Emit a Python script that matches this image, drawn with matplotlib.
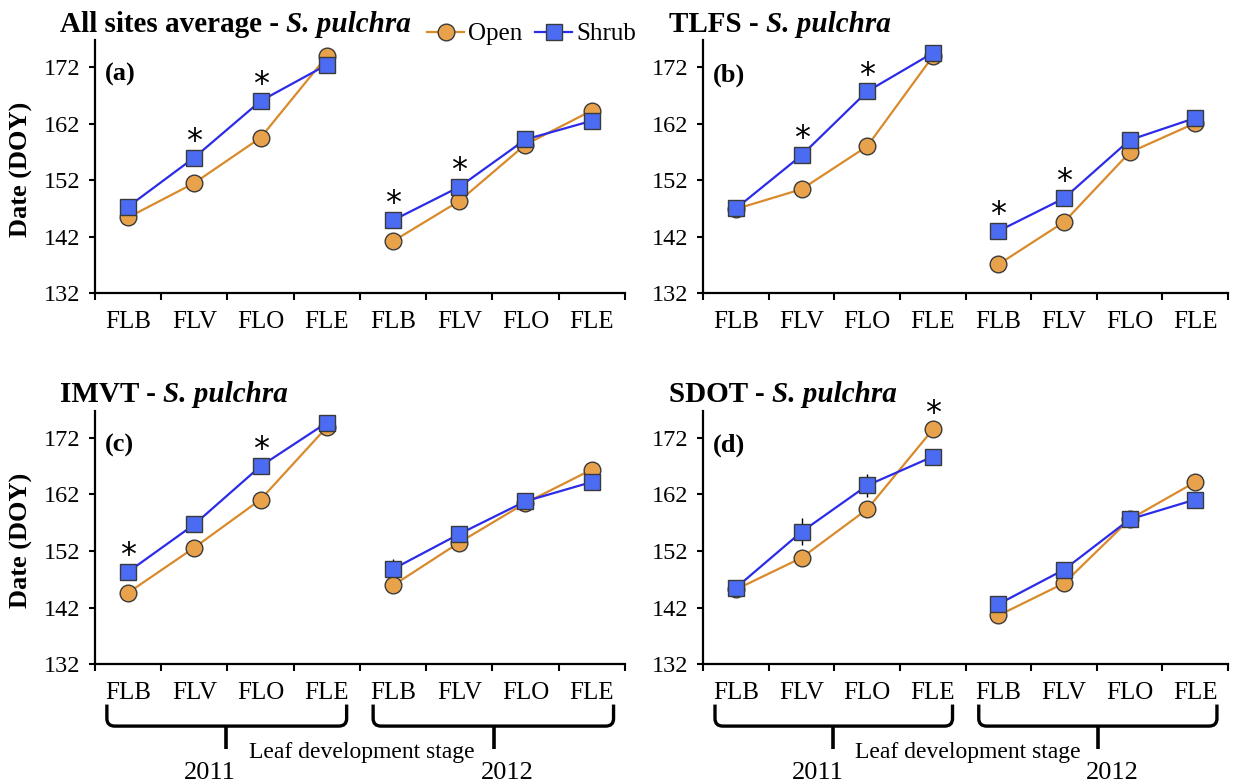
import numpy as np
import matplotlib.pyplot as plt
from matplotlib.lines import Line2D
from matplotlib.path import Path
from matplotlib.patches import PathPatch
from matplotlib.transforms import blended_transform_factory

plt.rcParams['font.family'] = ['Liberation Serif', 'DejaVu Serif']

stages = ["FLB", "FLV", "FLO", "FLE", "FLB", "FLV", "FLO", "FLE"]
sites = ["All sites average - ", "TLFS - ", "IMVT - ", "SDOT - "]
panel_tags = ["(a)", "(b)", "(c)", "(d)"]
years = ["2011", "2012"]

# leaf development dates (DOY), 2011 stages then 2012 stages
open_doy = [
    [145.4, 151.5, 159.5, 173.9, 141.2, 148.3, 158.3, 164.3],
    [146.9, 150.4, 158.0, 173.9, 137.1, 144.6, 156.9, 162.1],
    [144.6, 152.6, 161.1, 173.9, 145.9, 153.5, 160.5, 166.4],
    [145.2, 150.8, 159.4, 173.5, 140.6, 146.3, 157.6, 164.2],
]
shrub_doy = [
    [147.3, 156.0, 166.0, 172.4, 144.9, 150.8, 159.2, 162.5],
    [147.0, 156.4, 167.7, 174.5, 143.0, 148.8, 159.1, 163.0],
    [148.3, 156.7, 167.0, 174.7, 148.8, 155.0, 160.8, 164.2],
    [145.5, 155.4, 163.6, 168.7, 142.6, 148.7, 157.6, 161.1],
]
open_err = [
    [0.6, 0.6, 0.8, 0.6, 0.8, 0.8, 0.6, 0.8],
    [0.5, 0.6, 0.8, 0.6, 0.8, 0.8, 0.6, 0.5],
    [0.6, 0.8, 0.9, 0.6, 1.2, 0.8, 0.6, 0.8],
    [0.6, 0.8, 0.8, 0.8, 0.8, 0.8, 0.6, 0.8],
]
shrub_err = [
    [0.8, 1.2, 1.0, 0.8, 0.8, 1.2, 0.8, 0.8],
    [0.6, 0.8, 0.8, 0.8, 0.9, 0.8, 0.8, 0.8],
    [0.6, 0.8, 0.8, 0.8, 1.8, 1.2, 0.8, 0.6],
    [0.8, 2.4, 2.0, 1.0, 0.8, 1.0, 0.6, 0.6],
]
# stages with a significant open/shrub difference
signif = [[1, 2, 4, 5], [1, 2, 4, 5], [0, 2], [3]]

open_line = "#D98A2B"
open_face = "#E9A24C"
shrub_line = "#2B2BE8"
shrub_face = "#4B6CF2"
edge = "#3a3a3a"

fig = plt.figure(figsize=(12.38, 7.84), dpi=100)
boxes = [
    [0.0767, 0.626, 0.428, 0.323],
    [0.568, 0.626, 0.424, 0.323],
    [0.0767, 0.153, 0.428, 0.323],
    [0.568, 0.153, 0.424, 0.323],
]


def brace(ax, x0, x1, xc, yt, yh, yb):
    # square bracket with rounded corners and a centre spike, below the axis
    tr = blended_transform_factory(ax.transData, ax.transAxes)
    rx, ry = 0.12, 0.03
    verts = [(x0, yt), (x0, yh + ry), (x0, yh), (x0 + rx, yh),
             (x1 - rx, yh), (x1, yh), (x1, yh + ry), (x1, yt)]
    codes = [Path.MOVETO, Path.LINETO, Path.CURVE3, Path.CURVE3,
             Path.LINETO, Path.CURVE3, Path.CURVE3, Path.LINETO]
    ax.add_patch(PathPatch(Path(verts, codes), fc='none', ec='black', lw=2.4,
                           transform=tr, clip_on=False))
    ax.plot([xc, xc], [yh, yb], color='black', lw=2.6, transform=tr,
            clip_on=False, solid_capstyle='butt')


x = np.arange(8)
for i in range(4):
    ax = fig.add_axes(boxes[i])
    op = np.array(open_doy[i])
    sh = np.array(shrub_doy[i])
    for seg in (slice(0, 4), slice(4, 8)):
        ax.errorbar(x[seg], op[seg], yerr=np.array(open_err[i])[seg], color=open_line,
                    lw=1.6, marker='o', ms=12, mfc=open_face, mec=edge, mew=1.0,
                    ecolor='black', elinewidth=1.0, capsize=0)
        ax.errorbar(x[seg], sh[seg], yerr=np.array(shrub_err[i])[seg], color=shrub_line,
                    lw=1.6, marker='s', ms=12, mfc=shrub_face, mec=edge, mew=1.0,
                    ecolor='black', elinewidth=1.0, capsize=0)
    for k in signif[i]:
        top = max(op[k], sh[k])
        ax.text(k, top + 1.4, "*", ha='center', va='baseline', fontsize=23,
                fontfamily='DejaVu Sans')

    ax.set_xlim(-0.5, 7.5)
    ax.set_ylim(132, 176.8)
    ax.set_yticks([132, 142, 152, 162, 172])
    ax.set_xticks(np.arange(-0.5, 8, 1.0))
    ax.set_xticklabels([])
    ax.set_xticks(x, minor=True)
    ax.set_xticklabels(stages, minor=True)
    ax.tick_params(axis='x', which='major', direction='out', length=5, width=1.5)
    ax.tick_params(axis='x', which='minor', length=0, pad=13, labelsize=18)
    ax.tick_params(axis='y', direction='out', length=4.5, width=1.5, labelsize=17.5, pad=6)
    for s in ('top', 'right'):
        ax.spines[s].set_visible(False)
    for s in ('left', 'bottom'):
        ax.spines[s].set_linewidth(1.6)

    if i % 2 == 0:
        ax.set_ylabel("Date (DOY)", fontsize=19, fontweight='bold')
        ax.yaxis.set_label_coords(-0.117, 0.49)

    ax.text(0.019, 0.862, panel_tags[i], transform=ax.transAxes, fontsize=19,
            fontweight='bold', va='center')

    t1 = ax.text(-0.066, 1.033, sites[i], transform=ax.transAxes, fontsize=21,
                 fontweight='bold', va='baseline', ha='left')
    ax.annotate("S. pulchra", xy=(1, 0), xycoords=t1, va='bottom', ha='left',
                fontsize=21, fontweight='bold', fontstyle='italic')

    if i == 0:
        handles = [
            Line2D([], [], color=open_line, lw=1.6, marker='o', ms=12,
                   mfc=open_face, mec=edge),
            Line2D([], [], color=shrub_line, lw=1.6, marker='s', ms=12,
                   mfc=shrub_face, mec=edge),
        ]
        fig.legend(handles, ["Open", "Shrub"], loc='center right',
                   bbox_to_anchor=(636 / 1238, 1 - 34 / 784), ncol=2, frameon=False,
                   fontsize=18, handlelength=1.5, handletextpad=0.15,
                   columnspacing=0.5, borderaxespad=0.0, borderpad=0.0)

    if i >= 2:
        tr = blended_transform_factory(ax.transData, ax.transAxes)
        brace(ax, -0.32, 3.30, 1.48, -0.16, -0.245, -0.335)
        brace(ax, 3.70, 7.33, 5.52, -0.16, -0.245, -0.335)
        ax.text(1.24, -0.43, years[0], transform=tr, ha='center', va='center',
                fontsize=19)
        ax.text(5.73, -0.43, years[1], transform=tr, ha='center', va='center',
                fontsize=19)
        ax.text(3.53, -0.35, "Leaf development stage", transform=tr, ha='center',
                va='center', fontsize=17)

fig.savefig("out.png", dpi=100)
